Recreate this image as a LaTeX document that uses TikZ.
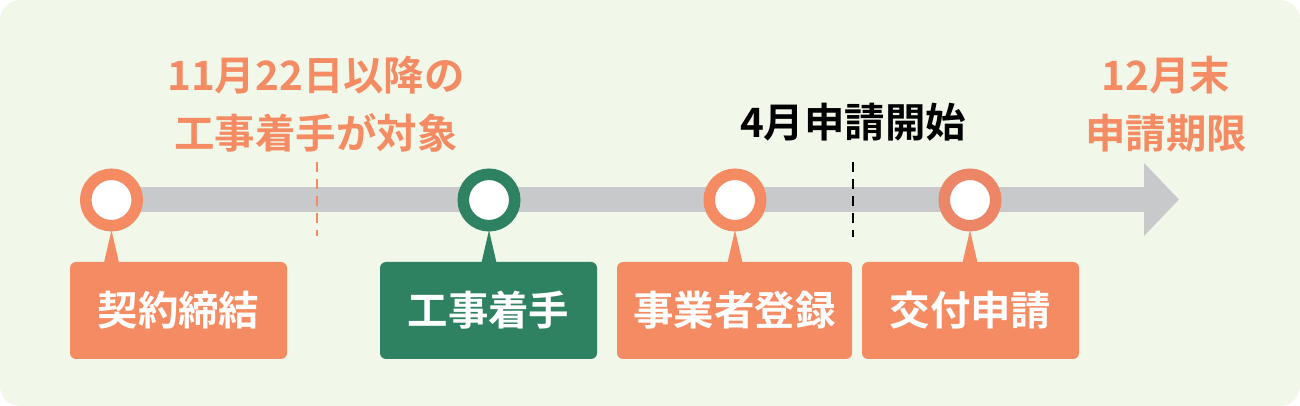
\documentclass[tikz,border=0pt]{standalone}
\usepackage{fontspec}
\setmainfont{Noto Sans CJK JP}[BoldFont={* Bold}]
\usepackage{tikz}
\usetikzlibrary{arrows.meta, calc, positioning}
\definecolor{bggreen}{RGB}{241,247,233}
\definecolor{salmon}{RGB}{244,139,98}
\definecolor{salmondark}{RGB}{236,134,102}
\definecolor{pine}{RGB}{46,130,98}
\definecolor{bargray}{RGB}{200,201,202}
\tikzset{
	milestone/.style={circle,draw=salmon,fill=white,line width=0.23cm,minimum size=1.03cm,inner sep=0pt,outer sep=0pt},
	stepbox/.style={fill=salmon,rounded corners=0.12cm,minimum width=4.34cm,minimum height=1.94cm,text=white,font=\fontsize{23}{27}\selectfont\bfseries,inner sep=0pt},
	note/.style={align=center,font=\fontsize{23}{33}\selectfont\bfseries}
}

\begin{document}
\begin{tikzpicture}
			\useasboundingbox (0,0) rectangle (26,-8.12);
			\fill[bggreen,rounded corners=0.4cm] (0,0) rectangle (26,-8.12);
			
			%----------------------------------------------------------------
			\draw [arrows = {-Triangle[width=1.42cm,length=0.7cm]},bargray,line width=0.5cm]
			(2.22,-3.99) -- (23.58,-3.99);
			
			\draw [salmon,line width=0.05cm,dash pattern=on 0.2cm off 0.14cm]
			(6.34,-3.24) -- (6.34,-4.72);
			\draw [black,line width=0.05cm,dash pattern=on 0.2cm off 0.14cm]
			(17.06,-3.24) -- (17.06,-4.74);
			
			%----------------------------------------------------------------
			\node(contractpt) [milestone] at (2.23,-4.0) {};
			\node(startpt) [milestone,draw=pine] at (9.78,-4.0) {};
			\node(registerpt) [milestone] at (14.70,-4.0) {};
			\node(applypt) [milestone,draw=salmondark] at (19.40,-4.0) {};
			
			%----------------------------------------------------------------
			\node(contract) [stepbox] at (3.57,-6.21) {契約締結};
			\node(start) [stepbox,fill=pine] at (9.77,-6.21) {工事着手};
			\node(register) [stepbox,minimum width=4.7cm] at (14.69,-6.21) {事業者登録};
			\node(apply) [stepbox] at (19.41,-6.21) {交付申請};
			
			\fill[salmon] ($(contractpt.south)+(0,-0.09)$) -- ($(contract.north -| contractpt)+(-0.15,-0.02)$) -- ($(contract.north -| contractpt)+(0.15,-0.02)$) -- cycle;
			\fill[pine] ($(startpt.south)+(0,-0.09)$) -- ($(start.north -| startpt)+(-0.15,-0.02)$) -- ($(start.north -| startpt)+(0.15,-0.02)$) -- cycle;
			\fill[salmon] ($(registerpt.south)+(0,-0.09)$) -- ($(register.north -| registerpt)+(-0.15,-0.02)$) -- ($(register.north -| registerpt)+(0.15,-0.02)$) -- cycle;
			\fill[salmon] ($(applypt.south)+(0,-0.09)$) -- ($(apply.north -| applypt)+(-0.15,-0.02)$) -- ($(apply.north -| applypt)+(0.15,-0.02)$) -- cycle;
			
			%----------------------------------------------------------------
			\node(target) [note,salmon] at (6.32,-2.08) {11月22日以降の\\工事着手が対象};
			\node(opening) [note,black] at (17.06,-2.44) {4月申請開始};
			\node(deadline) [note,salmon] at (23.32,-2.08) {12月末\\申請期限};
			
		\end{tikzpicture}
\end{document}
